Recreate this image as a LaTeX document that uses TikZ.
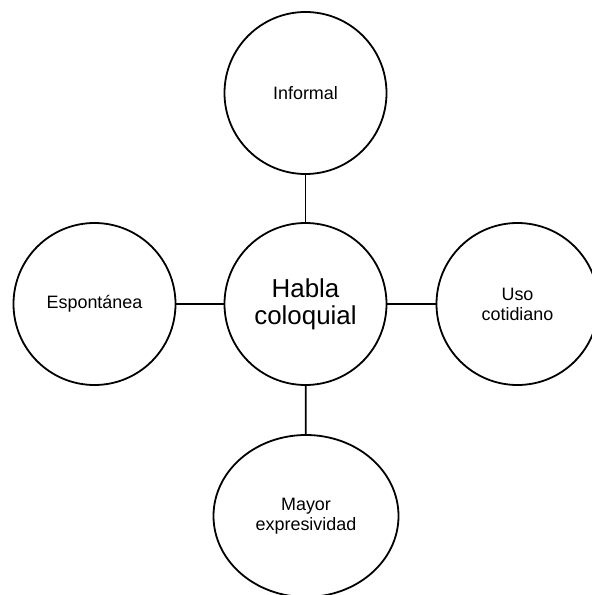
\documentclass[tikz,border=0pt]{standalone}
\usepackage{fontspec}
\setmainfont{Liberation Sans}
\usetikzlibrary{shapes.geometric}
\begin{document}
\begin{tikzpicture}[x=1bp,y=-1bp,
  bubble/.style={draw=black,line width=1.8bp,circle,minimum size=162bp,inner sep=0pt,align=center,font=\fontsize{18}{20}\selectfont},
  bigbubble/.style={bubble,font=\fontsize{26}{27}\selectfont},
  ovalbubble/.style={draw=black,line width=1.8bp,ellipse,minimum width=185bp,minimum height=162bp,inner sep=0pt,align=center,font=\fontsize{18}{20}\selectfont},
  link/.style={draw=black,line width=1.8bp}]
\useasboundingbox (0,0) rectangle (592,595);
\clip (0,0) rectangle (592,595);
\node[bigbubble] (c) at (305.5,304) {Habla\\coloquial};
\node[bubble] (t) at (305.5,93) {Informal};
\node[bubble] (l) at (94.5,304) {Espontánea};
\node[bubble] (r) at (517.5,304) {Uso\\cotidiano};
\node[ovalbubble] (b) at (306,516) {Mayor\\expresividad};
\draw[link] (t) -- (c);
\draw[link] (l) -- (c);
\draw[link] (c) -- (r);
\draw[link] (c) -- (b);
\end{tikzpicture}
\end{document}
